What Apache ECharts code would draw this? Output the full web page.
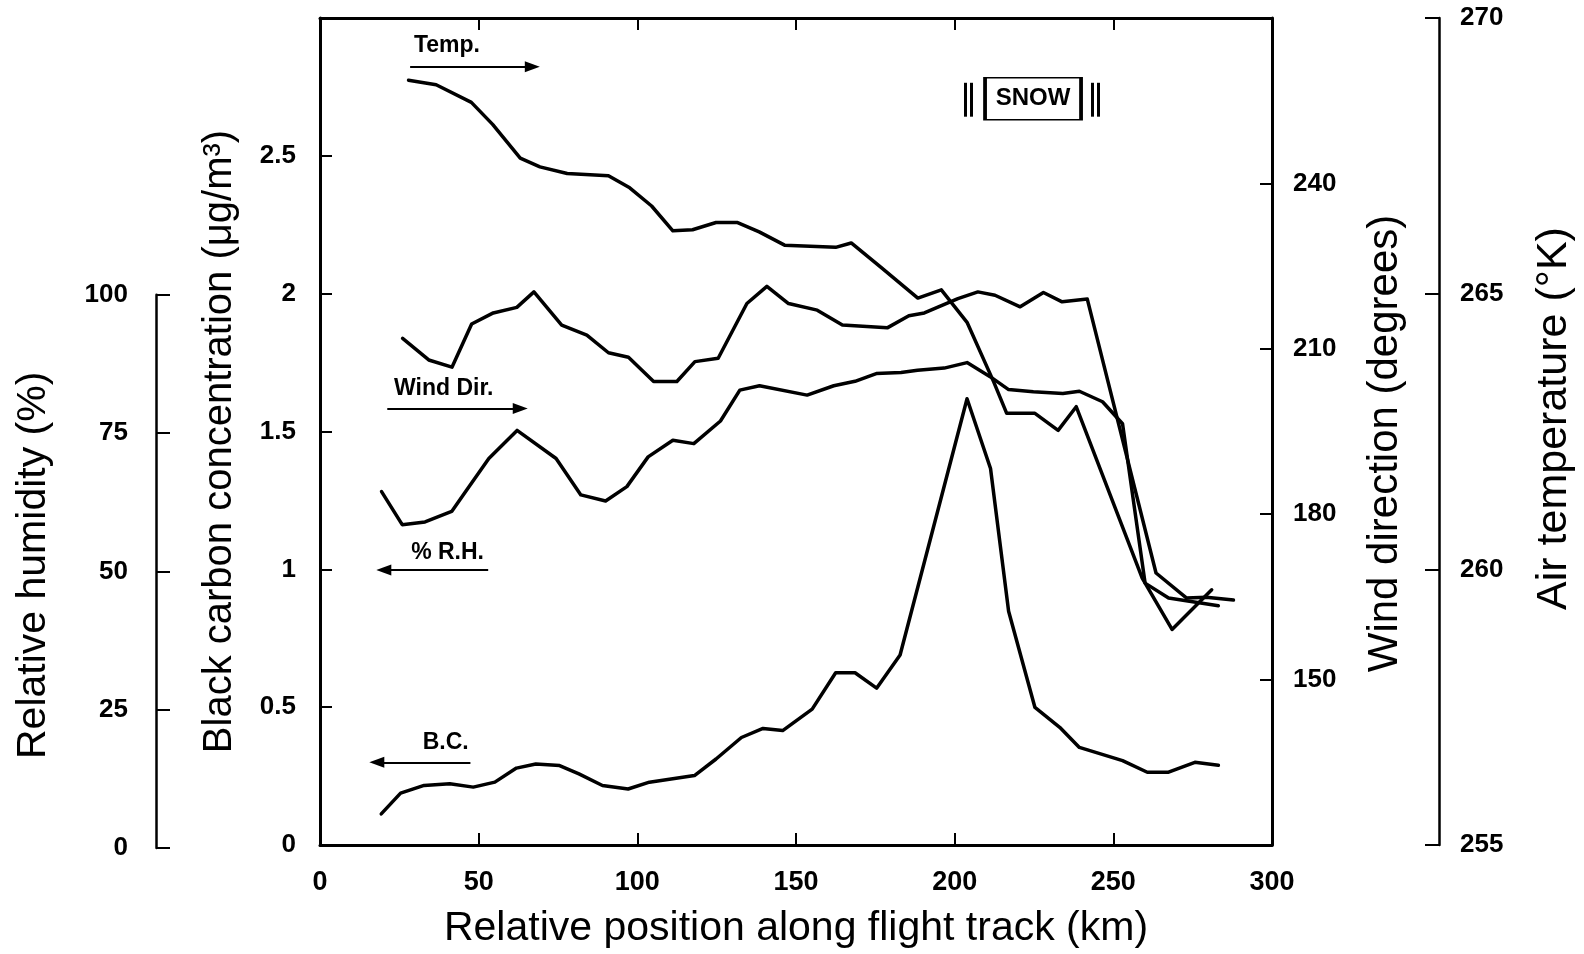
<!DOCTYPE html>
<html><head><meta charset="utf-8">
<script src="https://cdn.jsdelivr.net/npm/echarts@6/dist/echarts.min.js"></script>
<style>html,body{margin:0;padding:0;background:#fff}#c{width:1584px;height:954px}</style>
</head><body><div id="c"></div>
<script>
// ---- data ----
const xTicks = [0, 50, 100, 150, 200, 250, 300];

const tempKm = [27.9,36.6,47.7,54.4,63.1,69.3,77.9,90.9,97.6,104.5,111.2,117.4,124.8,131.6,138.4,146.4,162.5,167.4,176.7,188.4,195.8,203.9,212.3,216.4,225.3,232.6,238.3,259.1,268.5,281.0];
const tempK  = [268.87,268.79,268.47,268.07,267.46,267.30,267.18,267.14,266.92,266.59,266.14,266.16,266.29,266.29,266.12,265.88,265.84,265.92,265.48,264.92,265.07,264.48,263.40,262.83,262.83,262.52,262.95,259.84,258.91,259.63];

const rhKm  = [25.6,33.7,40.9,47.0,53.7,61.0,66.3,74.9,82.7,89.4,95.6,103.4,110.6,116.2,123.4,132.3,138.5,145.2,154.1,161.9,175.8,182.5,187.3,197.7,203.9,209.2,217.0,224.2,230.0,237.8,259.1,268.5,274.7,283.1];
const rhPct = [92.1,88.2,86.9,94.7,96.7,97.7,100.5,94.5,92.7,89.5,88.7,84.3,84.3,87.9,88.5,98.4,101.5,98.4,97.2,94.5,94.0,96.2,96.7,99.3,100.5,99.9,97.8,100.4,98.7,99.2,49.7,45.2,45.3,44.8];

const windKm  = [19.4,25.9,33.1,41.5,45.9,53.2,62.1,74.4,82.2,90.0,96.7,103.4,111.2,117.8,126.2,132.3,138.5,153.5,161.9,168.6,175.3,183.1,188.3,196.7,203.9,211.3,217.0,224.8,234.1,239.3,246.6,252.9,260.0,267.4,283.1];
const windDeg = [184.1,178.1,178.6,180.5,184.1,190.1,195.2,190.1,183.5,182.4,185.0,190.4,193.4,192.8,196.9,202.5,203.3,201.6,203.3,204.1,205.5,205.7,206.1,206.5,207.5,204.9,202.6,202.2,201.9,202.3,200.4,196.4,167.5,164.8,163.4];

const bcKm   = [19.3,25.4,32.8,40.9,48.3,55.1,61.9,68.0,75.5,81.6,89.0,97.1,103.8,118.0,124.8,132.8,139.6,145.8,155.1,162.5,168.6,175.4,182.8,203.9,211.3,217.0,225.3,233.1,239.3,252.9,260.7,267.4,275.7,283.1];
const bcConc = [0.113,0.188,0.216,0.222,0.210,0.228,0.279,0.294,0.288,0.258,0.216,0.203,0.228,0.252,0.312,0.390,0.423,0.415,0.493,0.625,0.625,0.569,0.689,1.619,1.366,0.848,0.499,0.427,0.354,0.306,0.264,0.264,0.300,0.289];

// ---- chart ----
const pair = (xs, ys) => xs.map((x, i) => [x, ys[i]]);
const FONT = 'Liberation Sans';
const black = '#000';
const lineStyle = { color: black, width: 3.5, join: 'round', cap: 'round' };
const tickLbl = { color: black, fontFamily: FONT, fontWeight: 'bold', fontSize: 26 };
const title = (size, pad) => ({ color: black, fontFamily: FONT, fontSize: size, padding: pad });
const annLbl = { show: true, position: 'inside', color: black, fontFamily: FONT, fontWeight: 'bold', fontSize: 23 };

const chart = echarts.init(document.getElementById('c'), null, { renderer: 'canvas' });
chart.setOption({
  backgroundColor: '#fff',
  animation: false,
  grid: [
    { left: 320, top: 18, width: 968, height: 830 },
    { left: 320, top: 294.67, width: 968, height: 553.33 }
  ],
  xAxis: [
    { gridIndex: 0, type: 'value', position: 'bottom', min: xTicks[0], max: xTicks[xTicks.length-1], interval: 50,
      axisLine: { onZero: false, lineStyle: { color: black, width: 3 } },
      axisTick: { inside: true, length: 12, lineStyle: { color: black, width: 2 } },
      axisLabel: Object.assign({ margin: 24 }, tickLbl, { fontSize: 27 }),
      splitLine: { show: false },
      name: 'Relative position along flight track (km)', nameLocation: 'middle', nameGap: 63,
      nameTextStyle: title(41, [0, 0, 0, 0]) },
    { gridIndex: 0, type: 'value', position: 'top', min: 0, max: 300, interval: 50,
      axisLine: { onZero: false, lineStyle: { color: black, width: 3 } },
      axisTick: { inside: true, length: 12, lineStyle: { color: black, width: 2 } },
      axisLabel: { show: false }, splitLine: { show: false } },
    { gridIndex: 1, type: 'value', min: 0, max: 300, show: false }
  ],
  yAxis: [
    { gridIndex: 0, type: 'value', position: 'left', min: 0, max: 3, interval: 0.5,
      axisLine: { show: true, onZero: false, lineStyle: { color: black, width: 3 } },
      axisTick: { show: true, inside: true, length: 12, lineStyle: { color: black, width: 2 } },
      axisLabel: Object.assign({ margin: 24, showMaxLabel: false }, tickLbl),
      splitLine: { show: false },
      name: 'Black carbon concentration (μg/m³)', nameLocation: 'middle', nameGap: 80, nameRotate: 90,
      nameTextStyle: title(40, [0, 20, 0, 0]) },
    { gridIndex: 0, type: 'value', position: 'right', offset: 0, min: 120, max: 270, interval: 30,
      axisLine: { show: true, onZero: false, lineStyle: { color: black, width: 3 } },
      axisTick: { show: true, inside: true, length: 12, lineStyle: { color: black, width: 2 } },
      axisLabel: Object.assign({ margin: 21, showMinLabel: false, showMaxLabel: false }, tickLbl),
      splitLine: { show: false },
      name: 'Wind direction (degrees)', nameLocation: 'middle', nameGap: 92, nameRotate: 90,
      nameTextStyle: title(42, [0, 24, 0, 0]) },
    { gridIndex: 0, type: 'value', position: 'right', offset: 167, min: 255, max: 270, interval: 5,
      axisLine: { show: true, onZero: false, lineStyle: { color: black, width: 2.5 } },
      axisTick: { show: true, inside: true, length: 14, lineStyle: { color: black, width: 2 } },
      axisLabel: Object.assign({ margin: 21 }, tickLbl),
      splitLine: { show: false },
      name: 'Air temperature (°K)', nameLocation: 'middle', nameGap: 94, nameRotate: 90,
      nameTextStyle: title(43, [0, 0, 0, 26]) },
    { gridIndex: 1, type: 'value', position: 'left', offset: 164, min: 0, max: 100, interval: 25,
      axisLine: { show: true, onZero: false, lineStyle: { color: black, width: 2.5 } },
      axisTick: { show: true, inside: true, length: 14, lineStyle: { color: black, width: 2 } },
      axisLabel: Object.assign({ margin: 28 }, tickLbl),
      splitLine: { show: false },
      name: 'Relative humidity (%)', nameLocation: 'middle', nameGap: 102, nameRotate: 90,
      nameTextStyle: title(41, [0, 0, 0, 12]) }
  ],
  series: [
    { name: 'Temp.', type: 'line', xAxisIndex: 0, yAxisIndex: 2, data: pair(tempKm, tempK),
      showSymbol: false, symbol: 'none', lineStyle: lineStyle, clip: false },
    { name: 'Wind Dir.', type: 'line', xAxisIndex: 0, yAxisIndex: 1, data: pair(windKm, windDeg),
      showSymbol: false, symbol: 'none', lineStyle: lineStyle, clip: false },
    { name: '% R.H.', type: 'line', xAxisIndex: 2, yAxisIndex: 3, data: pair(rhKm, rhPct),
      showSymbol: false, symbol: 'none', lineStyle: lineStyle, clip: false },
    { name: 'B.C.', type: 'line', xAxisIndex: 0, yAxisIndex: 0, data: pair(bcKm, bcConc),
      showSymbol: false, symbol: 'none', lineStyle: lineStyle, clip: false,
      markLine: {
        silent: true, animation: false,
        symbol: ['none', 'triangle'], symbolSize: [11, 15],
        lineStyle: { color: black, width: 2, type: 'solid' },
        label: { show: false },
        data: [
          [{ coord: [28.4, 2.823] }, { coord: [66.9, 2.823] }],
          [{ coord: [21.2, 1.583] }, { coord: [63.1, 1.583] }],
          [{ coord: [53.0, 0.998] }, { coord: [20.1, 0.998] }],
          [{ coord: [47.4, 0.300] }, { coord: [17.9, 0.300] }],
          [{ coord: [203.3, 2.765], symbol: 'none', lineStyle: { width: 3 } }, { coord: [203.3, 2.642], symbol: 'none' }],
          [{ coord: [205.2, 2.765], symbol: 'none', lineStyle: { width: 3 } }, { coord: [205.2, 2.642], symbol: 'none' }],
          [{ coord: [243.2, 2.765], symbol: 'none', lineStyle: { width: 3 } }, { coord: [243.2, 2.642], symbol: 'none' }],
          [{ coord: [245.1, 2.765], symbol: 'none', lineStyle: { width: 3 } }, { coord: [245.1, 2.642], symbol: 'none' }]
        ]
      },
      markPoint: {
        silent: true, animation: false,
        symbol: 'rect', symbolSize: 0,
        itemStyle: { color: 'rgba(0,0,0,0)' },
        label: annLbl,
        data: [
          { coord: [40.0, 2.899], label: { formatter: 'Temp.' } },
          { coord: [39.0, 1.655], label: { formatter: 'Wind Dir.' } },
          { coord: [40.2, 1.059], label: { formatter: '% R.H.' } },
          { coord: [39.6, 0.372], label: { formatter: 'B.C.' } },
          { coord: [224.7, 2.707], symbolSize: [96, 42],
            itemStyle: { color: 'rgba(255,255,255,0)', borderColor: black, borderWidth: 2.5 },
            label: { formatter: 'SNOW', fontSize: 24 } }
        ]
      }
    }
  ]
});
</script>
</body></html>
